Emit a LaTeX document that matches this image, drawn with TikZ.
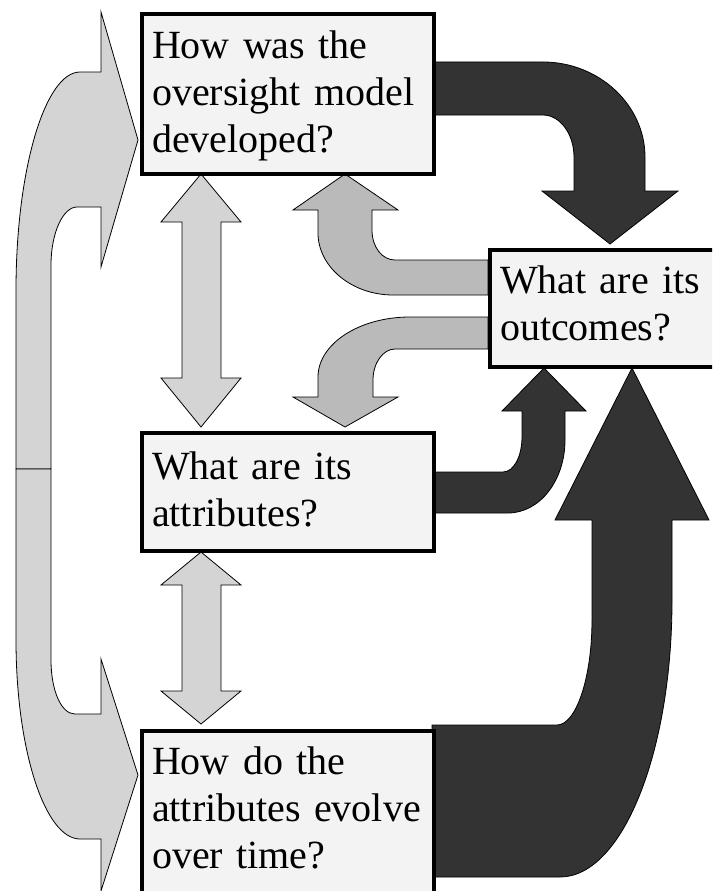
\documentclass[tikz,border=0pt]{standalone}
\usepackage{fontspec}
\setmainfont{Liberation Serif}
\definecolor{lightarr}{RGB}{212,212,212}
\definecolor{midarr}{RGB}{186,186,186}
\definecolor{darkarr}{RGB}{51,51,51}
\definecolor{boxfill}{RGB}{243,243,243}
\tikzset{
  qbox/.style={draw=black, line width=4pt, fill=boxfill, anchor=north west,
    align=left, inner xsep=10pt, inner ysep=0pt,
    font=\fontsize{40}{47}\selectfont},
  lightshape/.style={fill=lightarr, draw=black, line width=0.8pt, line join=miter},
  midshape/.style={fill=midarr, draw=black, line width=0.8pt},
  darkshape/.style={fill=darkarr, draw=black, line width=0.8pt},
}
\begin{document}
\begin{tikzpicture}[x=1pt,y=-1pt]
\useasboundingbox (0,0) rectangle (712,891);
\clip (0,0) rectangle (712,891);
% left curved arrows
\path[lightshape] (16,469) -- (16,290) .. controls (16,170) and (45,72) .. (80,72)
  -- (101,72) -- (101,12) -- (138,140) -- (101,267) -- (101,207) -- (77,207)
  .. controls (63,207) and (51,233) .. (51,265) -- (51,469) -- cycle;
\path[lightshape] (16,469) -- (16,640) .. controls (16,750) and (45,839) .. (80,839)
  -- (101,839) -- (101,891) -- (138,775) -- (101,659) -- (101,714) -- (75,714)
  .. controls (61,714) and (51,690) .. (51,660) -- (51,469) -- cycle;
% double arrows
\path[lightshape] (201,174) -- (241,222) -- (221,222) -- (221,378) -- (241,378)
  -- (201,427) -- (161,378) -- (182,378) -- (182,222) -- (161,222) -- cycle;
\path[lightshape] (201,552) -- (241,585) -- (221,585) -- (221,691) -- (241,691)
  -- (201,724) -- (161,691) -- (182,691) -- (182,585) -- (161,585) -- cycle;
% outcomes -> box1
\path[midshape] (488,260) -- (395,260) .. controls (382,260) and (372,247) .. (372,230)
  -- (372,210) -- (398,210) -- (345,174) -- (293,210) -- (318,210) -- (318,233)
  .. controls (318,267) and (352,295) .. (393,295) -- (488,295) -- cycle;
% outcomes -> attributes
\path[midshape] (488,317) -- (410,317) .. controls (359,317) and (318,344) .. (318,377)
  -- (318,397) -- (293,397) -- (345,427) -- (398,397) -- (373,397) -- (373,380)
  .. controls (373,363) and (383,349) .. (395,349) -- (488,349) -- cycle;
% box1 -> outcomes
\path[darkshape] (432,62) -- (543,62) .. controls (599,62) and (645,105) .. (645,157)
  -- (645,191) -- (678,191) -- (610,244) -- (542,191) -- (574,191) -- (574,157)
  .. controls (574,134) and (560,115) .. (543,115) -- (432,115) -- cycle;
% attributes -> outcomes
\path[darkshape] (432,472) -- (503,472) .. controls (514,472) and (522,456) .. (522,437)
  -- (522,411) -- (502,411) -- (544,368) -- (586,411) -- (565,411) -- (565,440)
  .. controls (565,480) and (540,513) .. (508,513) -- (432,513) -- cycle;
% evolve -> outcomes
\path[darkshape] (432,725) -- (557,725) .. controls (576,725) and (592,678) .. (592,620)
  -- (592,520) -- (555,520) -- (632,368) -- (709,520) -- (672,520) -- (672,600)
  .. controls (672,753) and (622,877) .. (560,877) -- (432,877) -- cycle;
% boxes
\node[qbox, minimum width=292pt, minimum height=160pt, text width=272pt,
  text height=45pt, text depth=115pt] (dev) at (140,12)
  {How was the\\oversight model\\developed?};
\node[qbox, minimum width=232pt, minimum height=117pt, text width=212pt,
  text height=43pt, text depth=74pt] (out) at (488,248)
  {What are its\\outcomes?};
\node[qbox, minimum width=292pt, minimum height=118pt, text width=272pt,
  text height=46pt, text depth=72pt] (att) at (140,431)
  {What are its\\attributes?};
\node[qbox, minimum width=292pt, minimum height=176pt, text width=272pt,
  text height=43pt, text depth=133pt] (evo) at (140,729)
  {How do the\\attributes evolve\\over time?};
\end{tikzpicture}
\end{document}
